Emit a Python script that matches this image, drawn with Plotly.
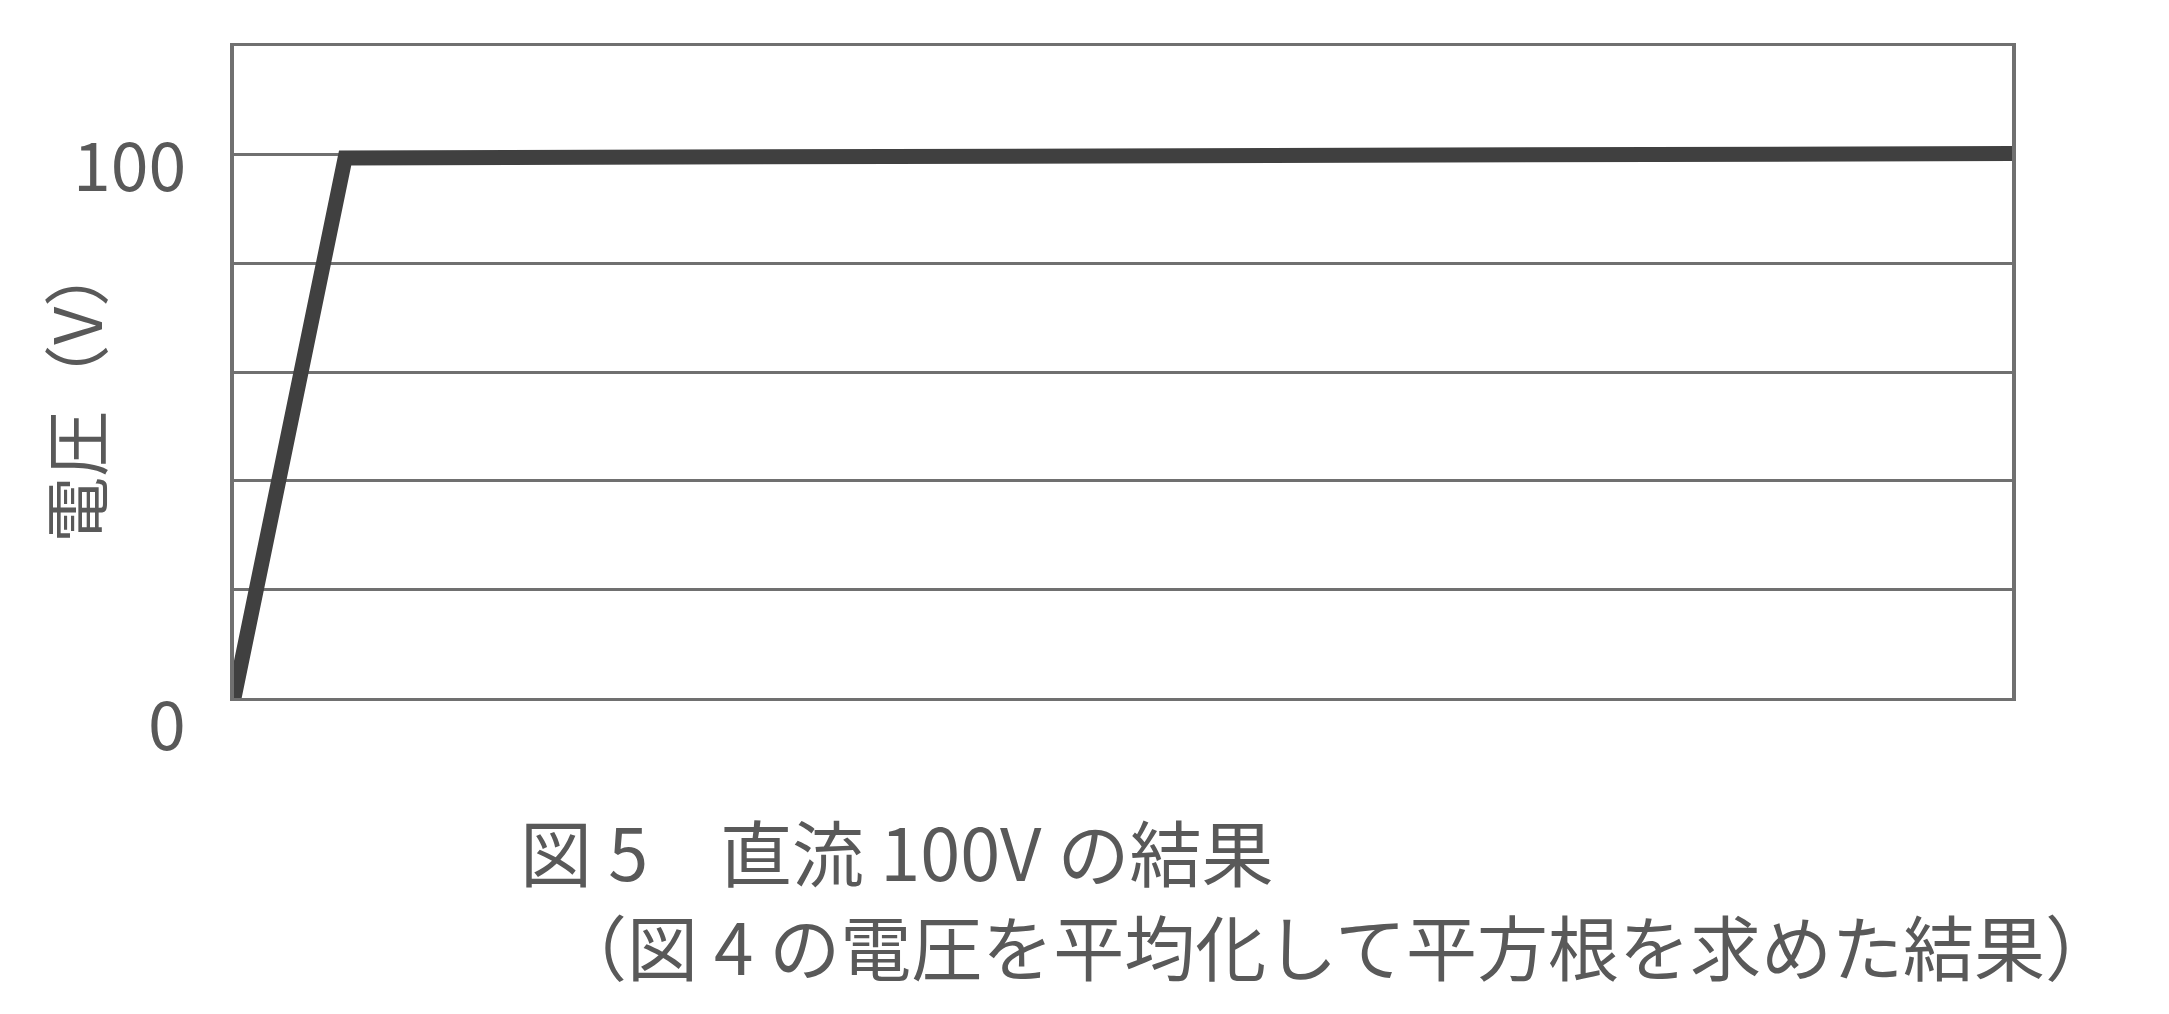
import plotly.graph_objects as go

# 直流100V 実効値の推移
t = [0, 1, 16]
voltage = [0, 99.4, 100.2]

y_ticks = [0, 100]
y_tick_text = ["0", "100"]
y_title = "電圧（V）"
caption_1 = "図 5　直流 100V の結果"
caption_2 = "（図 4 の電圧を平均化して平方根を求めた結果）"

FONT = "Noto Sans CJK JP"
TEXT_COLOR = "#595959"
GRID = "#707070"

fig = go.Figure()
fig.add_trace(go.Scatter(x=t, y=voltage, mode="lines",
                         line=dict(color="#404040", width=15),
                         showlegend=False))

# ページの body 余白 (8px) を差し引いたサイズ
fig.update_layout(
    width=2161, height=1006,
    margin=dict(l=226, r=157, t=38, b=316),
    paper_bgcolor="white", plot_bgcolor="white",
    font=dict(family=FONT, color=TEXT_COLOR),
)
fig.update_xaxes(range=[0, 16], showgrid=False, zeroline=False,
                 showticklabels=False, ticks="",
                 showline=True, mirror=True, linecolor=GRID, linewidth=3)
fig.update_yaxes(range=[0, 120], dtick=20, showgrid=True, gridcolor=GRID,
                 gridwidth=2.5, zeroline=False, showticklabels=False,
                 ticks="", showline=True, mirror=True, linecolor=GRID,
                 linewidth=4)

# 目盛ラベル（少し下にずれている）
for v, txt, shift in zip(y_ticks, y_tick_text, [-22, -7]):
    fig.add_annotation(x=-0.026, xref="paper", y=v, yref="y", text=txt,
                       showarrow=False, xanchor="right", yanchor="middle",
                       yshift=shift, font=dict(size=68, color=TEXT_COLOR))

fig.add_annotation(x=-0.091, xref="paper", y=0.47, yref="paper",
                   text=y_title, textangle=-90, showarrow=False,
                   xanchor="center", yanchor="middle",
                   font=dict(size=66, color=TEXT_COLOR))

fig.add_annotation(x=0.160, xref="paper", y=-0.233, yref="paper",
                   text=caption_1, showarrow=False, xanchor="left",
                   yanchor="middle", font=dict(size=72, color=TEXT_COLOR))
fig.add_annotation(x=0.180, xref="paper", y=-0.377, yref="paper",
                   text=caption_2, showarrow=False, xanchor="left",
                   yanchor="middle", font=dict(size=71, color=TEXT_COLOR))

fig.write_html("out.html")
